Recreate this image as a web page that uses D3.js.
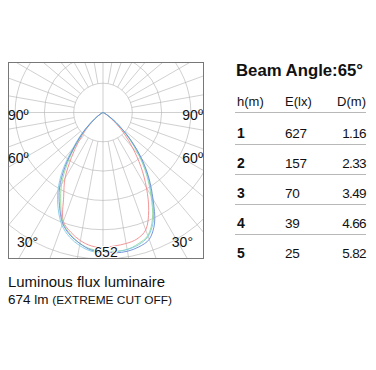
<!DOCTYPE html>
<html>
<head>
<meta charset="utf-8">
<script src="https://cdn.jsdelivr.net/npm/d3@7"></script>
<style>
  html, body { margin: 0; padding: 0; background: #fff; }
  svg { display: block; font-family: "Liberation Sans", Arial, sans-serif; }
</style>
</head>
<body>
<div id="chart"></div>
<script>
// polar diagram data (cd), gamma 0..90 step 5
const gammas = d3.range(0, 91, 5);
const maxScale = 652;
const ringCount = 5;
const angleLabels = [90, 60, 30];

const redLeft    = [601, 596, 579, 552, 516, 414, 338, 245, 169, 107, 58, 27, 11, 4, 1, 0, 0, 0, 0];
const redRight   = [596, 596, 592, 583, 556, 481, 387, 294, 205, 134, 76, 36, 13, 4, 1, 0, 0, 0, 0];
const greenLeft  = [614, 610, 592, 561, 521, 445, 369, 276, 187, 120, 62, 29, 11, 4, 1, 0, 0, 0, 0];
const greenRight = [614, 619, 619, 605, 583, 521, 427, 338, 249, 165, 93, 45, 18, 6, 2, 0, 0, 0, 0];
const cyanLeft   = [623, 619, 601, 574, 534, 472, 401, 312, 209, 134, 71, 31, 13, 4, 1, 0, 0, 0, 0];
const cyanRight  = [623, 623, 619, 610, 587, 530, 436, 347, 258, 174, 98, 47, 18, 6, 2, 0, 0, 0, 0];
const blueLeft   = [619, 614, 592, 565, 525, 458, 387, 294, 196, 125, 67, 31, 13, 4, 1, 0, 0, 0, 0];
const blueRight  = [623, 627, 627, 619, 601, 543, 445, 356, 267, 178, 102, 49, 18, 7, 2, 0, 0, 0, 0];

const curves = [
  {color: "#f3898b", left: redLeft,   right: redRight},
  {color: "#93d996", left: greenLeft, right: greenRight},
  {color: "#7fcbe4", left: cyanLeft,  right: cyanRight},
  {color: "#6a8ad6", left: blueLeft,  right: blueRight}
];

// table
const beamTitle = "Beam Angle:65°";
const tableHeader = ["h(m)", "E(lx)", "D(m)"];
const heights = ["1", "2", "3", "4", "5"];
const illuminance = ["627", "157", "70", "39", "25"];
const diameters = ["1.16", "2.33", "3.49", "4.66", "5.82"];

const fluxTitle = "Luminous flux luminaire";
const fluxValue = "674 lm";
const fluxNote = "(EXTREME CUT OFF)";

const W = 376, H = 370;
const svg = d3.select("#chart").append("svg").attr("width", W).attr("height", H);

// ---- polar diagram
const box = {x: 8.5, y: 62.5, w: 195, h: 196};
const cx = 103, cy = 112.5;
const r = d3.scaleLinear().domain([0, maxScale]).range([0, 146.5]);
const ringStep = maxScale / ringCount;

svg.append("clipPath").attr("id", "boxclip")
  .append("rect").attr("x", box.x).attr("y", box.y).attr("width", box.w).attr("height", box.h);

const grid = svg.append("g").attr("clip-path", "url(#boxclip)")
  .attr("stroke", "#b0b0b0").attr("stroke-width", 0.6).attr("fill", "none");

const rings = d3.range(1, ringCount + 1).map(i => i * ringStep);
grid.selectAll("circle").data(rings).enter().append("circle")
  .attr("cx", cx).attr("cy", cy).attr("r", d => r(d));

// spokes every 10 degrees outside the first ring
const spokes = d3.range(0, 360, 10).filter(a => a % 90 !== 0);
grid.selectAll("line.spoke").data(spokes).enter().append("line")
  .attr("class", "spoke")
  .attr("x1", a => cx + r(ringStep) * Math.sin(a * Math.PI / 180))
  .attr("y1", a => cy + r(ringStep) * Math.cos(a * Math.PI / 180))
  .attr("x2", a => cx + 400 * Math.sin(a * Math.PI / 180))
  .attr("y2", a => cy + 400 * Math.cos(a * Math.PI / 180));
grid.append("line").attr("x1", box.x).attr("x2", box.x + box.w).attr("y1", cy).attr("y2", cy);
grid.append("line").attr("x1", cx).attr("x2", cx).attr("y1", box.y).attr("y2", box.y + box.h);

// curves
const radial = d3.lineRadial()
  .angle(d => d[0])
  .radius(d => r(d[1]))
  .curve(d3.curveCatmullRom);

const plot = svg.append("g").attr("clip-path", "url(#boxclip)")
  .append("g").attr("transform", `translate(${cx},${cy})`);
curves.forEach(c => {
  const pts = [];
  for (let i = gammas.length - 1; i >= 0; i--) pts.push([Math.PI + gammas[i] * Math.PI / 180, c.left[i]]);
  for (let i = 1; i < gammas.length; i++) pts.push([Math.PI - gammas[i] * Math.PI / 180, c.right[i]]);
  plot.append("path").attr("d", radial(pts))
    .attr("fill", "none").attr("stroke", c.color).attr("stroke-width", 0.9);
});

svg.append("rect").attr("x", box.x).attr("y", box.y).attr("width", box.w).attr("height", box.h)
  .attr("fill", "none").attr("stroke", "#777").attr("stroke-width", 1);

// angle labels
const labelPos = {90: {y: 120, lx: 8, rx: 203}, 60: {y: 163, lx: 8, rx: 203}, 30: {y: 247, lx: 17, rx: 193}};
const labels = svg.append("g").attr("font-size", 14).attr("fill", "#111");
angleLabels.forEach(a => {
  const p = labelPos[a];
  const t = a === 30 ? a + "°" : a + "º";
  labels.append("text").attr("x", p.lx).attr("y", p.y).text(t);
  labels.append("text").attr("x", p.rx).attr("y", p.y).attr("text-anchor", "end").text(t);
});
labels.append("text").attr("x", 106).attr("y", 257).attr("text-anchor", "middle")
  .attr("stroke", "#fff").attr("stroke-width", 2).attr("paint-order", "stroke")
  .text(maxScale);

// ---- table
const tbl = svg.append("g").attr("fill", "#111");
tbl.append("text").attr("x", 236).attr("y", 76).attr("font-size", 16).attr("font-weight", "bold")
  .attr("textLength", 127).attr("lengthAdjust", "spacingAndGlyphs").text(beamTitle);

const colX = [237, 285, 366];
const anchors = ["start", "start", "end"];
tableHeader.forEach((h, i) => {
  tbl.append("text").attr("x", colX[i]).attr("y", 105.5).attr("font-size", 13)
    .attr("text-anchor", anchors[i]).text(h);
});

const rowY = d3.scaleLinear().domain([0, heights.length - 1]).range([138, 258]);
const lineYs = [112].concat(d3.range(0, heights.length - 1).map(i => rowY(i) + 6));
tbl.selectAll("line.sep").data(lineYs).enter().append("line")
  .attr("class", "sep")
  .attr("x1", 235).attr("x2", 366).attr("y1", d => d + 0.5).attr("y2", d => d + 0.5)
  .attr("stroke", "#b8b8b8").attr("stroke-width", 1);

heights.forEach((h, i) => {
  const y = rowY(i);
  tbl.append("text").attr("x", colX[0]).attr("y", y).attr("font-size", 14).attr("font-weight", "bold").text(h);
  tbl.append("text").attr("x", colX[1]).attr("y", y).attr("font-size", 13.5)
    .attr("letter-spacing", -0.3).text(illuminance[i]);
  tbl.append("text").attr("x", colX[2]).attr("y", y).attr("font-size", 13.5)
    .attr("letter-spacing", -0.6).attr("text-anchor", "end").text(diameters[i]);
});

// ---- flux text
svg.append("text").attr("x", 8).attr("y", 287).attr("font-size", 15.5).attr("fill", "#111")
  .attr("textLength", 157).attr("lengthAdjust", "spacingAndGlyphs").text(fluxTitle);
const flux = svg.append("text").attr("x", 8).attr("y", 304).attr("fill", "#111")
  .attr("textLength", 164).attr("lengthAdjust", "spacingAndGlyphs");
flux.append("tspan").attr("font-size", 12.5).text(fluxValue + " ");
flux.append("tspan").attr("font-size", 11).text(fluxNote);
</script>
</body>
</html>
